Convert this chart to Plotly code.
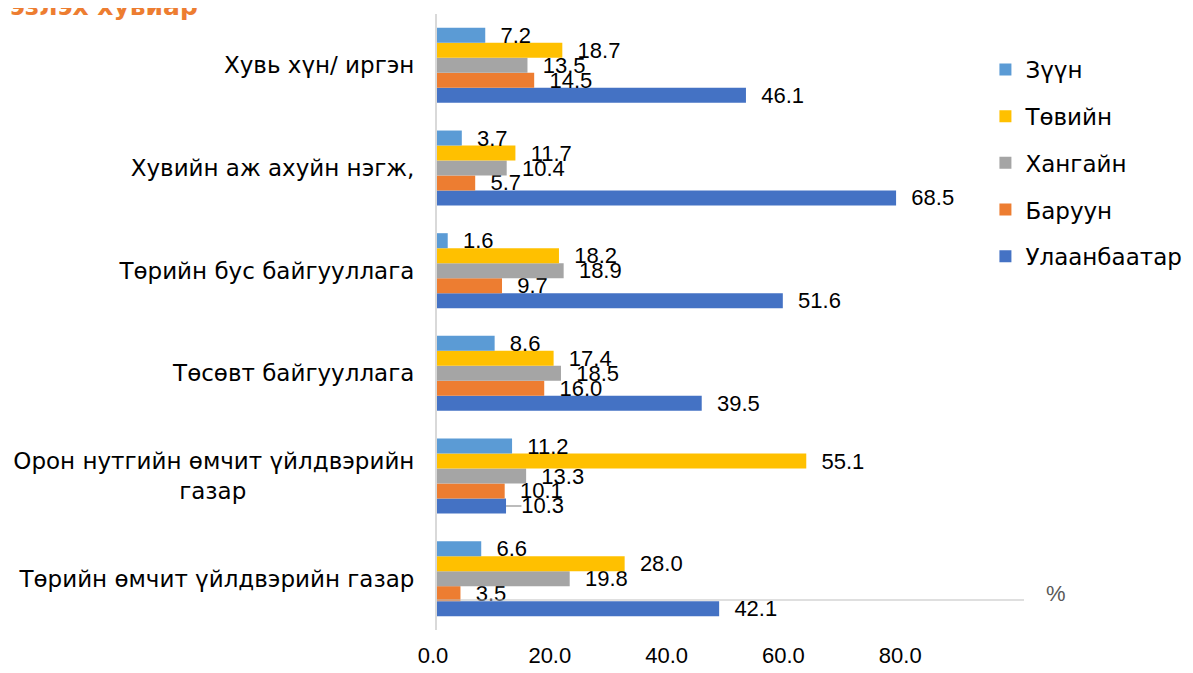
import plotly.graph_objects as go

# Categories listed bottom -> top
categories = [
    "Төрийн өмчит үйлдвэрийн газар",
    "Орон нутгийн өмчит үйлдвэрийн газар",
    "Төсөвт байгууллага",
    "Төрийн бус байгууллага",
    "Хувийн аж ахуйн нэгж,",
    "Хувь хүн/ иргэн",
]

ulaanbaatar = [42.1, 10.3, 39.5, 51.6, 68.5, 46.1]
baruun = [3.5, 10.1, 16.0, 9.7, 5.7, 14.5]
khangai = [19.8, 13.3, 18.5, 18.9, 10.4, 13.5]
tuv = [28.0, 55.1, 17.4, 18.2, 11.7, 18.7]
zuun = [6.6, 11.2, 8.6, 1.6, 3.7, 7.2]

series_names = ["Улаанбаатар", "Баруун", "Хангайн", "Төвийн", "Зүүн"]
series_values = [ulaanbaatar, baruun, khangai, tuv, zuun]
series_colors = ["#4472C4", "#ED7D31", "#A5A5A5", "#FFC000", "#5B9BD5"]

x_tick_values = [0, 20, 40, 60, 80]
x_tick_labels = ["0.0", "20.0", "40.0", "60.0", "80.0"]

title_text = "эзлэх хувиар"
unit_text = "%"

FONT = "Liberation Sans, Arial, sans-serif"
CYR = "DejaVu Sans, Liberation Sans, sans-serif"
FS = 22
NB = "\u00a0"

# the page body adds an 8px offset; the figure is sized to fit the window
OFF = 8
FIG_W, FIG_H = 1193 - OFF, 673 - OFF
L, T = 437 - OFF, 14 - OFF
W_PLOT, H_PLOT = 596.0, 616.0
R = FIG_W - L - int(W_PLOT)
B = FIG_H - T - int(H_PLOT)


def wrap_label(c):
    if c.startswith("Орон нутгийн"):
        return "Орон нутгийн өмчит үйлдвэрийн<br>газар" + NB * 23
    return c


def py(screen_y):
    """screen y (reference pixels) -> paper fraction"""
    return (T + H_PLOT - (screen_y - OFF)) / H_PLOT


def px(screen_x):
    return ((screen_x - OFF) - L) / W_PLOT


fig = go.Figure()
n = len(series_names)
for i, (name, vals, col) in enumerate(zip(series_names, series_values, series_colors)):
    fig.add_trace(go.Bar(
        y=categories, x=vals, orientation="h", name=name,
        legendgroup=name, legendrank=n - i,
        marker=dict(color=col, line=dict(width=0)),
        text=[f"{v:.1f}" for v in vals],
        texttemplate=NB * 2 + "%{text}",
        textposition="outside",
        textfont=dict(family=FONT, size=FS, color="#000000"),
        constraintext="none",
        cliponaxis=False,
        hoverinfo="skip",
    ))

# empty helper trace so the second (label) x axis is drawn
fig.add_trace(go.Scatter(x=[], y=[], xaxis="x2", yaxis="y",
                         showlegend=False, hoverinfo="skip"))

fig.update_layout(
    width=FIG_W, height=FIG_H,
    margin=dict(l=L, r=R, t=T, b=B),
    paper_bgcolor="white", plot_bgcolor="white",
    barmode="group", bargap=0.27, bargroupgap=0.0,
    font=dict(family=FONT, size=FS, color="#000000"),
    showlegend=True,
    legend=dict(
        x=px(991), xanchor="left",
        y=py(48), yanchor="top",
        traceorder="grouped",
        tracegroupgap=13.8,
        font=dict(family=CYR, size=23, color="#000000"),
        bgcolor="rgba(0,0,0,0)", borderwidth=0,
    ),
    xaxis=dict(
        range=[0, W_PLOT / 6.77], showticklabels=False, showgrid=False,
        zeroline=False, showline=False, ticks="", automargin=False,
    ),
    xaxis2=dict(
        overlaying="x", anchor="y", side="bottom",
        range=[0, W_PLOT / 5.9], tickmode="array",
        tickvals=x_tick_values, ticktext=x_tick_labels,
        showgrid=False, zeroline=False, showline=False, ticks="",
        ticklabelshift=-4, ticklabelstandoff=10, automargin=False,
        tickfont=dict(family=FONT, size=FS, color="#000000"),
    ),
    yaxis=dict(
        tickmode="array", tickvals=categories,
        ticktext=[wrap_label(c) for c in categories],
        showgrid=False, zeroline=False,
        showline=True, linecolor="#d9d9d9", linewidth=2,
        ticks="", ticklabelstandoff=16, automargin=False,
        tickfont=dict(family=CYR, size=23, color="#000000"),
    ),
)

fig.add_annotation(
    text="<b>" + title_text + "</b>", xref="paper", yref="paper",
    x=px(4), y=1, xanchor="left", yanchor="bottom", yshift=-9,
    showarrow=False, font=dict(family=CYR, size=25, color="#ED7D31"),
)
fig.add_annotation(
    text=unit_text, xref="paper", yref="paper",
    x=px(1062), y=py(593), xanchor="center", yanchor="middle",
    showarrow=False, font=dict(family=FONT, size=FS, color="#595959"),
)
fig.add_shape(
    type="line", xref="paper", yref="paper",
    x0=0, x1=px(1030), y0=py(600), y1=py(600),
    line=dict(color="#bfbfbf", width=1),
)
# leader line next to the 10.3 label
fig.add_shape(
    type="line", xref="x", yref="paper",
    x0=ulaanbaatar[1], x1=ulaanbaatar[1] + 2.3,
    y0=py(506), y1=py(506),
    line=dict(color="#a6a6a6", width=1.5),
)

fig.write_html("out.html")
